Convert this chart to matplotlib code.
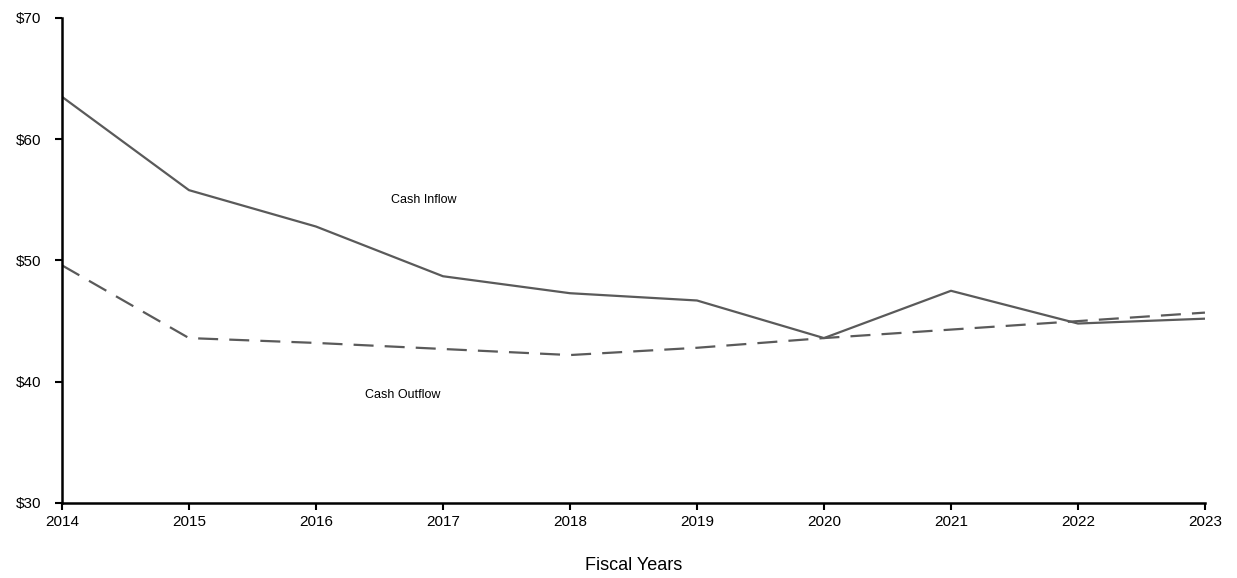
import matplotlib.pyplot as plt

plt.rcParams['font.family'] = ['Liberation Sans', 'DejaVu Sans']

years = [2014, 2015, 2016, 2017, 2018, 2019, 2020, 2021, 2022, 2023]
cash_inflow = [63.5, 55.8, 52.8, 48.7, 47.3, 46.7, 43.6, 47.5, 44.8, 45.2]
cash_outflow = [49.6, 43.6, 43.2, 42.7, 42.2, 42.8, 43.6, 44.3, 45.0, 45.7]
y_ticks = [30, 40, 50, 60, 70]
y_labels = ['$30', '$40', '$50', '$60', '$70']

fig = plt.figure(figsize=(12.37, 5.78), dpi=100)
ax = fig.add_axes([0.0501, 0.1298, 0.9240, 0.8391])

ax.plot(years, cash_inflow, color='#5a5a5a', lw=1.6)
ax.plot(years, cash_outflow, color='#5a5a5a', lw=1.6, dashes=(9, 5))

ax.text(2016.85, 55.0, 'Cash Inflow', fontsize=9, ha='center', va='center')
ax.text(2016.68, 38.9, 'Cash Outflow', fontsize=9, ha='center', va='center')

ax.set_xlim(2014, 2023)
ax.set_ylim(30, 70)
ax.set_xticks(years)
ax.set_xticklabels([str(y) for y in years], fontsize=11)
ax.set_yticks(y_ticks)
ax.set_yticklabels(y_labels, fontsize=11)
ax.tick_params(axis='both', direction='out', length=5, width=1.5)
ax.tick_params(axis='y', pad=10)
ax.tick_params(axis='x', pad=4)

for side in ['top', 'right']:
    ax.spines[side].set_visible(False)
for side in ['left', 'bottom']:
    ax.spines[side].set_linewidth(1.8)

ax.set_xlabel('Fiscal Years', fontsize=13, labelpad=20)

fig.savefig('out.png', dpi=100)
